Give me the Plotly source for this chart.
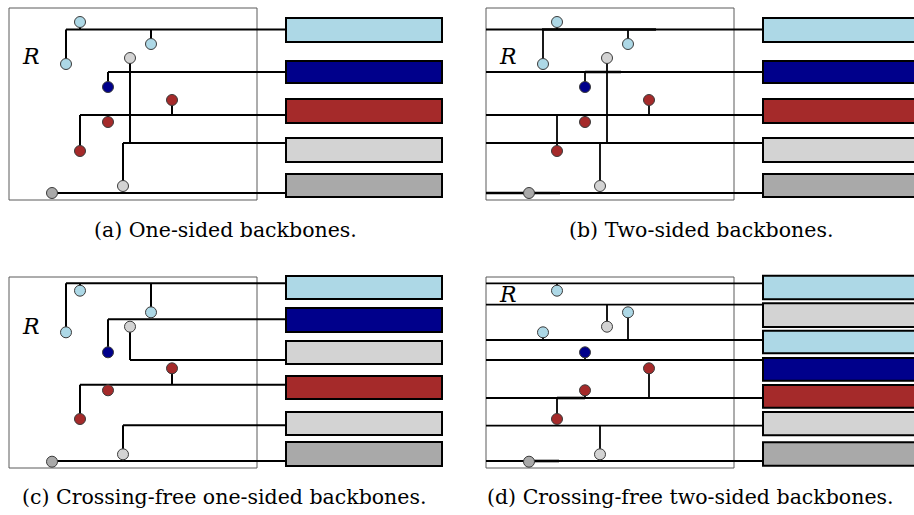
import plotly.graph_objects as go

W, H = 914, 515

# colour names used by the diagram
PALETTE = {"lb": "#ADD8E6", "nv": "#00008B", "br": "#A52A2A", "lg": "#D3D3D3", "dg": "#A9A9A9"}

# horizontal shift between left (one-sided) and right (two-sided) panels
DX = 477

# ---- sites (points) ----
SITE_COLORS = ["lb", "lb", "lb", "nv", "lg", "br", "br", "br", "lg", "dg"]
TOP_SITE_X = [80, 151, 66, 108, 130, 172, 108, 80, 123, 52]
TOP_SITE_Y = [22, 44, 64, 87, 58, 100, 122, 151, 186, 193]
BOT_SITE_X = [80, 151, 66, 108, 130, 172, 108, 80, 123, 52]
BOT_SITE_Y = [290.7, 312.3, 332.3, 352.3, 326.7, 368.3, 390.3, 419, 454.3, 461.7]

# backbone (row) assignment of each site per panel
ROW_A = [0, 0, 0, 1, 3, 2, 2, 2, 3, 4]
ROW_B = [0, 0, 0, 1, 3, 2, 2, 2, 3, 4]
ROW_C = [0, 0, 0, 1, 2, 3, 3, 3, 4, 5]
ROW_D = [0, 2, 2, 3, 1, 4, 4, 4, 5, 6]

# ---- backbones / label boxes ----
TOP_BACKBONE_Y = [29.5, 72, 115, 143, 193]
TOP_BOX_Y0 = [18, 61, 99, 138, 174]
TOP_BOX_Y1 = [42, 83, 123, 162, 197]
TOP_BOX_C = ["lb", "nv", "br", "lg", "dg"]

C_BACKBONE_Y = [283.3, 319.3, 360, 384.7, 425.3, 461]
C_BOX_Y0 = [276, 308, 341, 376, 412, 442]
C_BOX_Y1 = [299, 332, 364, 399, 435, 466]
C_BOX_C = ["lb", "nv", "lg", "br", "lg", "dg"]

D_BACKBONE_Y = [283.3, 304.7, 340, 360, 398, 425.7, 461]
D_BOX_Y0 = [275.7, 303.3, 330.7, 358, 385, 412, 442.3]
D_BOX_Y1 = [299.3, 327, 353.3, 380.7, 407.7, 435.3, 465.7]
D_BOX_C = ["lb", "lg", "lb", "nv", "br", "lg", "dg"]

BOX_X = [286, 442]          # label box span in left panels
REGION_X = [9, 257]         # region R span in left panels
TOP_REGION_Y = [8, 200]
BOT_REGION_Y = [277, 468]

# emphasised (used) parts of two-sided backbones: (panel, row, x0, x1)
EMPH = [("b", 0, 542, 656), ("b", 1, 585, 621), ("b", 4, 486, 560),
        ("d", 4, 557, 585), ("d", 6, 528, 559)]

CAPTIONS = ["(a) One-sided backbones.", "(b) Two-sided backbones.",
            "(c) Crossing-free one-sided backbones.", "(d) Crossing-free two-sided backbones."]

fig = go.Figure()
shapes = []

panels = {
    "a": dict(sx=TOP_SITE_X, sy=TOP_SITE_Y, rows=ROW_A, by=TOP_BACKBONE_Y, y0=TOP_BOX_Y0, y1=TOP_BOX_Y1,
              bc=TOP_BOX_C, dx=0, two=False, ry=TOP_REGION_Y),
    "b": dict(sx=TOP_SITE_X, sy=TOP_SITE_Y, rows=ROW_B, by=TOP_BACKBONE_Y, y0=TOP_BOX_Y0, y1=TOP_BOX_Y1,
              bc=TOP_BOX_C, dx=DX, two=True, ry=TOP_REGION_Y),
    "c": dict(sx=BOT_SITE_X, sy=BOT_SITE_Y, rows=ROW_C, by=C_BACKBONE_Y, y0=C_BOX_Y0, y1=C_BOX_Y1,
              bc=C_BOX_C, dx=0, two=False, ry=BOT_REGION_Y),
    "d": dict(sx=BOT_SITE_X, sy=BOT_SITE_Y, rows=ROW_D, by=D_BACKBONE_Y, y0=D_BOX_Y0, y1=D_BOX_Y1,
              bc=D_BOX_C, dx=DX, two=True, ry=BOT_REGION_Y),
}

for key, p in panels.items():
    dx = p["dx"]
    # region rectangle
    shapes.append(dict(type="rect", xref="x", yref="y", x0=REGION_X[0] + dx, x1=REGION_X[1] + dx,
                       y0=p["ry"][0], y1=p["ry"][1], line=dict(color="#5a5a5a", width=1),
                       fillcolor="rgba(0,0,0,0)", layer="below"))
    # label boxes
    for y0, y1, c in zip(p["y0"], p["y1"], p["bc"]):
        shapes.append(dict(type="rect", xref="x", yref="y", x0=BOX_X[0] + dx, x1=BOX_X[1] + dx,
                           y0=y0, y1=y1, line=dict(color="black", width=2), fillcolor=PALETTE[c],
                           layer="above"))
    lx, ly = [], []
    # backbones
    for r, by in enumerate(p["by"]):
        xs = [x + dx for x, rr in zip(p["sx"], p["rows"]) if rr == r]
        start = (REGION_X[0] + dx) if p["two"] else min(xs)
        lx += [start, BOX_X[0] + dx, None]
        ly += [by, by, None]
    # leaders
    for x, y, r in zip(p["sx"], p["sy"], p["rows"]):
        lx += [x + dx, x + dx, None]
        ly += [y, p["by"][r], None]
    fig.add_trace(go.Scatter(x=lx, y=ly, mode="lines", line=dict(color="black", width=1.8 if p["two"] else 2),
                             hoverinfo="skip", showlegend=False))
    # emphasised segments
    ex, ey = [], []
    for pk, r, x0, x1 in EMPH:
        if pk == key:
            ex += [x0, x1, None]
            ey += [p["by"][r], p["by"][r], None]
    if ex:
        fig.add_trace(go.Scatter(x=ex, y=ey, mode="lines", line=dict(color="black", width=2.6),
                                 hoverinfo="skip", showlegend=False))
    # sites
    fig.add_trace(go.Scatter(x=[x + dx for x in p["sx"]], y=p["sy"], mode="markers",
                             marker=dict(size=11, color=[PALETTE[c] for c in SITE_COLORS],
                                         line=dict(color="#3a3a3a", width=1)),
                             hoverinfo="skip", showlegend=False))

annotations = []
# region labels
for rx, ry in [(31, 56), (31 + DX, 56), (31, 326), (31 + DX, 294)]:
    annotations.append(dict(x=rx, y=ry, xref="x", yref="y", text="<i>R</i>", showarrow=False,
                            font=dict(family="DejaVu Serif", size=22, color="black"),
                            xanchor="center", yanchor="middle"))
# captions
for (cx, cy), txt in zip([(225, 230), (701, 230), (224, 497), (690, 497)], CAPTIONS):
    annotations.append(dict(x=cx, y=cy, xref="x", yref="y", text=txt, showarrow=False,
                            font=dict(family="DejaVu Serif", size=20.5, color="black"),
                            xanchor="center", yanchor="middle"))

fig.update_layout(
    width=W, height=H, margin=dict(l=0, r=0, t=0, b=0),
    paper_bgcolor="white", plot_bgcolor="white",
    xaxis=dict(range=[0, W], visible=False, fixedrange=True),
    yaxis=dict(range=[H, 0], visible=False, fixedrange=True),
    shapes=shapes, annotations=annotations, showlegend=False,
)
fig.write_html("out.html", config={"displayModeBar": False},
               post_script="document.body.style.margin='0px';document.body.style.overflow='hidden';")
